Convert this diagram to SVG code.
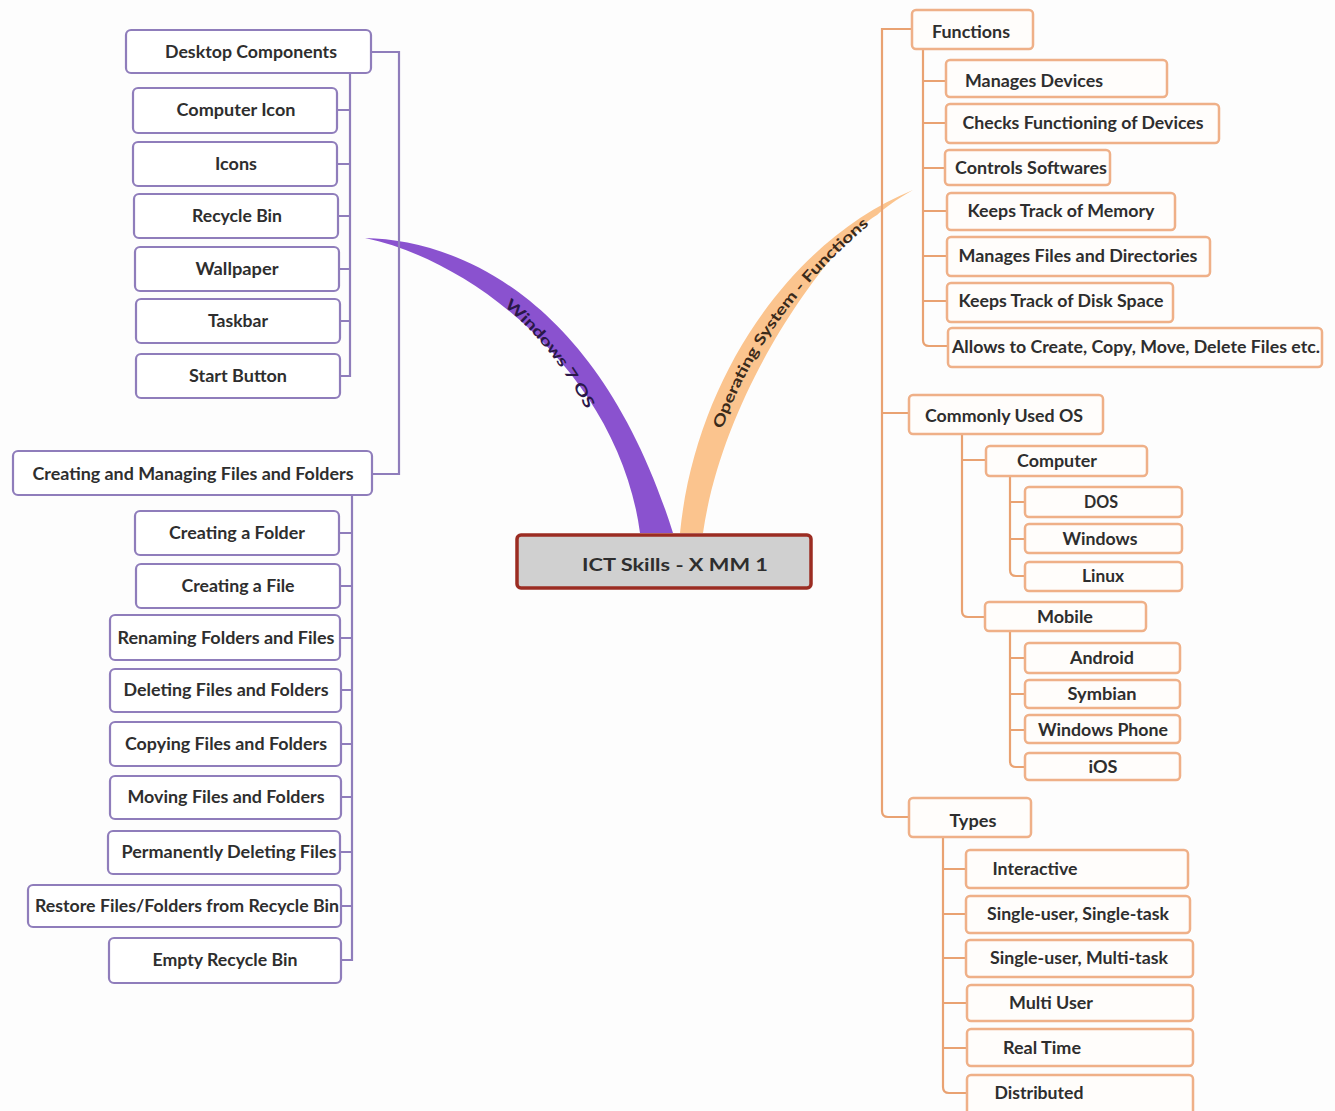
<svg xmlns="http://www.w3.org/2000/svg" width="1335" height="1111" viewBox="0 0 1335 1111">
<style>
  .t { font-family: Lato, "Open Sans", "Liberation Sans", sans-serif; font-weight: 700; font-size: 16.5px; fill: #2e2e2e; text-anchor: middle; }
  .pb { fill: #ffffff; stroke: #8f7dbb; stroke-width: 2.2; }
  .ob { fill: #fffdfb; stroke: #efb088; stroke-width: 2.5; }
  .pl { fill: none; stroke: #8f7dbb; stroke-width: 2.2; }
  .ol { fill: none; stroke: #e9a272; stroke-width: 2.2; }
  .band { font-family: Lato, "Open Sans", "Liberation Sans", sans-serif; font-weight: 700; font-size: 15px; text-anchor: middle; }
</style>
<defs>
  <path id="pw" d="M482,280 Q562,332 608,436"/>
  <path id="po" d="M705,458 Q745,308 890,198"/>
</defs>
<rect x="0" y="0" width="1335" height="1111" fill="#fdfdfd"/>

<g id="branches">
  <path d="M365,238 C460,240 600,300 673,533 L640,533 C620,380 480,262 365,238 Z" fill="#8a52cf"/>
  <path d="M680,533 C695,380 790,240 913,190 C895,200 885,208 877,215 C840,235 725,380 703,533 Z" fill="#fbc48e"/>
  <text class="band" fill="#2a1848" dy="8" textLength="136" lengthAdjust="spacingAndGlyphs"><textPath href="#pw" startOffset="50%">Windows 7 OS</textPath></text>
  <text class="band" fill="#3a2a1a" dy="8" textLength="259" lengthAdjust="spacingAndGlyphs"><textPath href="#po" startOffset="50%">Operating System - Functions</textPath></text>
</g>

<g id="connectors">
  <path class="pl" d="M371,52 H399 V474 H372"/>
  <path class="pl" d="M350,73 V376 H340 M337,110 H350 M337,164 H350 M338,216 H350 M339,269 H350 M340,321 H350"/>
  <path class="pl" d="M352,495 V960 H341 M339,533 H352 M340,586 H352 M340,638 H352 M341,690 H352 M341,744 H352 M341,797 H352 M340,852 H352 M341,906 H352"/>
  <path class="ol" d="M912,29 H882 V811 Q882,817 888,817 H909 M882,413 H909"/>
  <path class="ol" d="M923,49 V340 Q923,346 929,346 H948 M923,81 H946 M923,123 H946 M923,168 H945 M923,211 H947 M923,256 H947 M923,301 H947"/>
  <path class="ol" d="M962,434 V611 Q962,617 968,617 H985 M962,460 H986"/>
  <path class="ol" d="M1010,476 V570 Q1010,576 1016,576 H1025 M1010,502 H1025 M1010,539 H1025"/>
  <path class="ol" d="M1010,631 V761 Q1010,767 1016,767 H1025 M1010,658 H1025 M1010,694 H1025 M1010,730 H1025"/>
  <path class="ol" d="M943,837 V1087 Q943,1093 949,1093 H967 M943,869 H966 M943,914 H966 M943,958 H966 M943,1003 H967 M943,1048 H967"/>
</g>

<g id="root">
  <rect x="517" y="535" width="294" height="53" rx="4" fill="#d0d0d0" stroke="#9b2c22" stroke-width="3.5"/>
  <text class="t" x="675" y="571" font-size="23" textLength="186" lengthAdjust="spacingAndGlyphs">ICT Skills - X MM 1</text>
</g>

<g id="desktop-components"><rect class="pb" x="126" y="30" width="245" height="43" rx="5"/><text class="t" x="251" y="58" textLength="172" lengthAdjust="spacingAndGlyphs">Desktop Components</text></g>
<g id="computer-icon"><rect class="pb" x="133" y="88" width="204" height="45" rx="5"/><text class="t" x="236" y="116" textLength="119" lengthAdjust="spacingAndGlyphs">Computer Icon</text></g>
<g id="icons"><rect class="pb" x="133" y="142" width="204" height="44" rx="5"/><text class="t" x="236" y="170" textLength="42" lengthAdjust="spacingAndGlyphs">Icons</text></g>
<g id="recycle-bin"><rect class="pb" x="134" y="194" width="204" height="44" rx="5"/><text class="t" x="237" y="222" textLength="90" lengthAdjust="spacingAndGlyphs">Recycle Bin</text></g>
<g id="wallpaper"><rect class="pb" x="135" y="247" width="204" height="44" rx="5"/><text class="t" x="237" y="275" textLength="83" lengthAdjust="spacingAndGlyphs">Wallpaper</text></g>
<g id="taskbar"><rect class="pb" x="136" y="299" width="204" height="44" rx="5"/><text class="t" x="238" y="327" textLength="60" lengthAdjust="spacingAndGlyphs">Taskbar</text></g>
<g id="start-button"><rect class="pb" x="136" y="354" width="204" height="44" rx="5"/><text class="t" x="238" y="382" textLength="98" lengthAdjust="spacingAndGlyphs">Start Button</text></g>

<g id="creating-managing"><rect class="pb" x="13" y="451" width="359" height="44" rx="5"/><text class="t" x="193" y="480" textLength="321" lengthAdjust="spacingAndGlyphs">Creating and Managing Files and Folders</text></g>
<g id="creating-folder"><rect class="pb" x="135" y="511" width="204" height="44" rx="5"/><text class="t" x="237" y="539" textLength="136" lengthAdjust="spacingAndGlyphs">Creating a Folder</text></g>
<g id="creating-file"><rect class="pb" x="136" y="564" width="204" height="44" rx="5"/><text class="t" x="238" y="592" textLength="113" lengthAdjust="spacingAndGlyphs">Creating a File</text></g>
<g id="renaming"><rect class="pb" x="110" y="615" width="230" height="45" rx="5"/><text class="t" x="226" y="644" textLength="217" lengthAdjust="spacingAndGlyphs">Renaming Folders and Files</text></g>
<g id="deleting"><rect class="pb" x="110" y="669" width="231" height="43" rx="5"/><text class="t" x="226" y="696" textLength="205" lengthAdjust="spacingAndGlyphs">Deleting Files and Folders</text></g>
<g id="copying"><rect class="pb" x="110" y="722" width="231" height="44" rx="5"/><text class="t" x="226" y="750" textLength="202" lengthAdjust="spacingAndGlyphs">Copying Files and Folders</text></g>
<g id="moving"><rect class="pb" x="110" y="776" width="231" height="43" rx="5"/><text class="t" x="226" y="803" textLength="197" lengthAdjust="spacingAndGlyphs">Moving Files and Folders</text></g>
<g id="permanently"><rect class="pb" x="108" y="831" width="232" height="43" rx="5"/><text class="t" x="229" y="858" textLength="215" lengthAdjust="spacingAndGlyphs">Permanently Deleting Files</text></g>
<g id="restore"><rect class="pb" x="28" y="885" width="313" height="42" rx="5"/><text class="t" x="187" y="912" textLength="304" lengthAdjust="spacingAndGlyphs">Restore Files/Folders from Recycle Bin</text></g>
<g id="empty-bin"><rect class="pb" x="109" y="938" width="232" height="45" rx="5"/><text class="t" x="225" y="966" textLength="145" lengthAdjust="spacingAndGlyphs">Empty Recycle Bin</text></g>

<g id="functions"><rect class="ob" x="912" y="10" width="121" height="39" rx="4"/><text class="t" x="971" y="38" textLength="78" lengthAdjust="spacingAndGlyphs">Functions</text></g>
<g id="manages-devices"><rect class="ob" x="946" y="60" width="221" height="37" rx="4"/><text class="t" x="1034" y="87" textLength="138" lengthAdjust="spacingAndGlyphs">Manages Devices</text></g>
<g id="checks-functioning"><rect class="ob" x="946" y="104" width="273" height="39" rx="4"/><text class="t" x="1083" y="129" textLength="241" lengthAdjust="spacingAndGlyphs">Checks Functioning of Devices</text></g>
<g id="controls-softwares"><rect class="ob" x="945" y="150" width="165" height="35" rx="4"/><text class="t" x="1031" y="174" textLength="152" lengthAdjust="spacingAndGlyphs">Controls Softwares</text></g>
<g id="track-memory"><rect class="ob" x="947" y="193" width="228" height="37" rx="4"/><text class="t" x="1061" y="217" textLength="187" lengthAdjust="spacingAndGlyphs">Keeps Track of Memory</text></g>
<g id="manages-files"><rect class="ob" x="947" y="237" width="263" height="39" rx="4"/><text class="t" x="1078" y="262" textLength="239" lengthAdjust="spacingAndGlyphs">Manages Files and Directories</text></g>
<g id="disk-space"><rect class="ob" x="947" y="283" width="226" height="39" rx="4"/><text class="t" x="1061" y="307" textLength="205" lengthAdjust="spacingAndGlyphs">Keeps Track of Disk Space</text></g>
<g id="allows"><rect class="ob" x="948" y="328" width="374" height="39" rx="4"/><text class="t" x="1136" y="353" textLength="368" lengthAdjust="spacingAndGlyphs">Allows to Create, Copy, Move, Delete Files etc.</text></g>

<g id="commonly-used"><rect class="ob" x="909" y="395" width="194" height="39" rx="4"/><text class="t" x="1004" y="422" textLength="158" lengthAdjust="spacingAndGlyphs">Commonly Used OS</text></g>
<g id="computer"><rect class="ob" x="986" y="446" width="161" height="30" rx="4"/><text class="t" x="1057" y="467" textLength="80" lengthAdjust="spacingAndGlyphs">Computer</text></g>
<g id="dos"><rect class="ob" x="1025" y="487" width="157" height="30" rx="4"/><text class="t" x="1101" y="508" textLength="34" lengthAdjust="spacingAndGlyphs">DOS</text></g>
<g id="windows"><rect class="ob" x="1025" y="524" width="157" height="29" rx="4"/><text class="t" x="1100" y="545" textLength="75" lengthAdjust="spacingAndGlyphs">Windows</text></g>
<g id="linux"><rect class="ob" x="1025" y="562" width="157" height="29" rx="4"/><text class="t" x="1103" y="582" textLength="42" lengthAdjust="spacingAndGlyphs">Linux</text></g>
<g id="mobile"><rect class="ob" x="985" y="602" width="161" height="29" rx="4"/><text class="t" x="1065" y="623" textLength="56" lengthAdjust="spacingAndGlyphs">Mobile</text></g>
<g id="android"><rect class="ob" x="1025" y="643" width="155" height="30" rx="4"/><text class="t" x="1102" y="664" textLength="64" lengthAdjust="spacingAndGlyphs">Android</text></g>
<g id="symbian"><rect class="ob" x="1025" y="680" width="155" height="28" rx="4"/><text class="t" x="1102" y="700" textLength="69" lengthAdjust="spacingAndGlyphs">Symbian</text></g>
<g id="windows-phone"><rect class="ob" x="1025" y="715" width="155" height="28" rx="4"/><text class="t" x="1103" y="736" textLength="130" lengthAdjust="spacingAndGlyphs">Windows Phone</text></g>
<g id="ios"><rect class="ob" x="1025" y="753" width="155" height="27" rx="4"/><text class="t" x="1103" y="773" textLength="29" lengthAdjust="spacingAndGlyphs">iOS</text></g>

<g id="types"><rect class="ob" x="909" y="798" width="122" height="39" rx="4"/><text class="t" x="973" y="827" textLength="47" lengthAdjust="spacingAndGlyphs">Types</text></g>
<g id="interactive"><rect class="ob" x="966" y="850" width="222" height="38" rx="4"/><text class="t" x="1035" y="875" textLength="85" lengthAdjust="spacingAndGlyphs">Interactive</text></g>
<g id="single-single"><rect class="ob" x="966" y="896" width="224" height="37" rx="4"/><text class="t" x="1078" y="920" textLength="182" lengthAdjust="spacingAndGlyphs">Single-user, Single-task</text></g>
<g id="single-multi"><rect class="ob" x="966" y="940" width="227" height="37" rx="4"/><text class="t" x="1079" y="964" textLength="178" lengthAdjust="spacingAndGlyphs">Single-user, Multi-task</text></g>
<g id="multi-user"><rect class="ob" x="967" y="985" width="226" height="36" rx="4"/><text class="t" x="1051" y="1009" textLength="84" lengthAdjust="spacingAndGlyphs">Multi User</text></g>
<g id="real-time"><rect class="ob" x="967" y="1029" width="226" height="37" rx="4"/><text class="t" x="1042" y="1054" textLength="78" lengthAdjust="spacingAndGlyphs">Real Time</text></g>
<g id="distributed"><rect class="ob" x="967" y="1075" width="226" height="40" rx="4"/><text class="t" x="1039" y="1099" textLength="89" lengthAdjust="spacingAndGlyphs">Distributed</text></g>
</svg>
